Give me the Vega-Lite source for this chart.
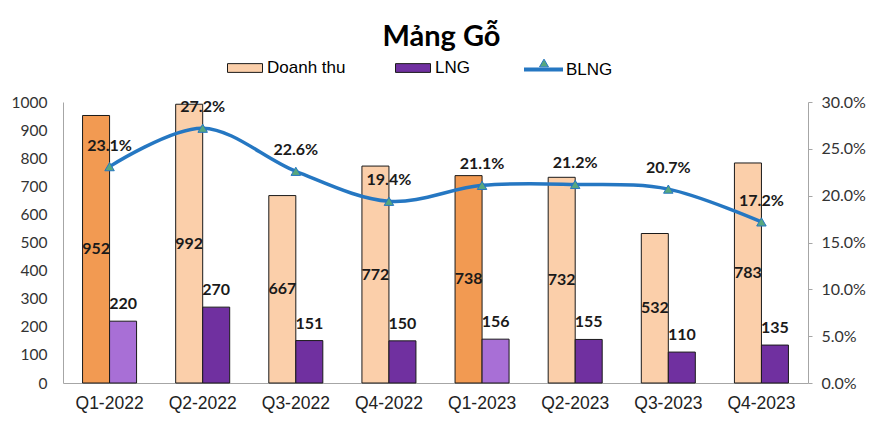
{
  "$schema": "https://vega.github.io/schema/vega-lite/v6.json",
  "width": 745,
  "height": 281,
  "autosize": "none",
  "padding": {"left": 63, "top": 102, "right": 77, "bottom": 49},
  "background": "white",
  "title": {"text": "Mảng Gỗ", "font": "Lato", "fontSize": 29, "fontWeight": "bold", "color": "black", "anchor": "middle", "dx": 6, "dy": 8},
  "config": {"view": {"stroke": null}},
  "datasets": {
    "bars": [
      {"q": "Q1-2022", "series": "Doanh thu", "value": 952, "hl": true},
      {"q": "Q1-2022", "series": "LNG", "value": 220, "hl": true},
      {"q": "Q2-2022", "series": "Doanh thu", "value": 992, "hl": false},
      {"q": "Q2-2022", "series": "LNG", "value": 270, "hl": false},
      {"q": "Q3-2022", "series": "Doanh thu", "value": 667, "hl": false},
      {"q": "Q3-2022", "series": "LNG", "value": 151, "hl": false},
      {"q": "Q4-2022", "series": "Doanh thu", "value": 772, "hl": false},
      {"q": "Q4-2022", "series": "LNG", "value": 150, "hl": false},
      {"q": "Q1-2023", "series": "Doanh thu", "value": 738, "hl": true},
      {"q": "Q1-2023", "series": "LNG", "value": 156, "hl": true},
      {"q": "Q2-2023", "series": "Doanh thu", "value": 732, "hl": false},
      {"q": "Q2-2023", "series": "LNG", "value": 155, "hl": false},
      {"q": "Q3-2023", "series": "Doanh thu", "value": 532, "hl": false},
      {"q": "Q3-2023", "series": "LNG", "value": 110, "hl": false},
      {"q": "Q4-2023", "series": "Doanh thu", "value": 783, "hl": false},
      {"q": "Q4-2023", "series": "LNG", "value": 135, "hl": false}
    ],
    "line": [
      {"q": "Q1-2022", "blng": 0.231},
      {"q": "Q2-2022", "blng": 0.272},
      {"q": "Q3-2022", "blng": 0.226},
      {"q": "Q4-2022", "blng": 0.194},
      {"q": "Q1-2023", "blng": 0.211},
      {"q": "Q2-2023", "blng": 0.212},
      {"q": "Q3-2023", "blng": 0.207},
      {"q": "Q4-2023", "blng": 0.172}
    ]
  },
  "resolve": {"scale": {"y": "independent"}},
  "layer": [
    {
      "data": {"name": "bars"},
      "layer": [
        {
          "mark": {"type": "bar", "stroke": "#1a1a1a", "strokeWidth": 1},
          "encoding": {
            "x": {"field": "q", "type": "nominal", "sort": null, "scale": {"paddingInner": 0.42, "paddingOuter": 0.21},
                  "axis": {"title": null, "labelAngle": 0, "labelFont": "Liberation Sans", "labelFontSize": 17.5, "labelColor": "#222", "ticks": false, "domainColor": "#a6a6a6", "labelPadding": 11}},
            "xOffset": {"field": "series", "type": "nominal", "sort": null, "scale": {"domain": ["Doanh thu", "LNG"], "paddingInner": 0, "paddingOuter": 0}},
            "y": {"field": "value", "type": "quantitative", "scale": {"domain": [0, 1000]},
                  "axis": {"orient": "left", "title": null, "values": [0, 100, 200, 300, 400, 500, 600, 700, 800, 900, 1000], "tickCount": 12, "format": "d", "labelOverlap": false, "grid": false, "ticks": false, "domainColor": "#a6a6a6", "labelFont": "Lato", "labelFontSize": 15.5, "labelColor": "#333", "labelPadding": 16}},
            "color": {
              "field": "series", "type": "nominal",
              "scale": {"domain": ["Doanh thu", "LNG"], "range": ["#FBCFAA", "#7030A0"]},
              "condition": [
                {"test": "datum.hl && datum.series == 'Doanh thu'", "value": "#F29A52"},
                {"test": "datum.hl", "value": "#A86FD6"}
              ],
              "legend": {"orient": "none", "legendX": 164, "legendY": -52, "direction": "horizontal", "title": null,
                         "symbolType": "M-1,-0.25H1V0.25H-1Z", "symbolSize": 1225, "symbolStrokeColor": "#1a1a1a", "symbolStrokeWidth": 1,
                         "labelFont": "Liberation Sans", "labelFontSize": 17, "labelColor": "black", "labelOffset": 4, "columnPadding": 47}
            }
          }
        },
        {
          "transform": [{"filter": "datum.series == 'LNG'"}],
          "mark": {"type": "text", "font": "Lato", "fontWeight": "bold", "fontSize": 16, "baseline": "bottom", "dy": -9, "color": "#1a1a1a"},
          "encoding": {
            "x": {"field": "q", "type": "nominal", "sort": null},
            "xOffset": {"field": "series", "type": "nominal", "sort": null, "scale": {"domain": ["Doanh thu", "LNG"]}},
            "y": {"field": "value", "type": "quantitative"},
            "text": {"field": "value", "type": "quantitative"}
          }
        }
      ]
    },
    {
      "data": {"name": "bars"},
      "transform": [{"filter": "datum.series == 'Doanh thu'"}],
      "mark": {"type": "text", "font": "Lato", "fontWeight": "bold", "fontSize": 16, "baseline": "middle", "color": "#1a1a1a"},
      "encoding": {
        "x": {"field": "q", "type": "nominal", "sort": null},
        "xOffset": {"field": "series", "type": "nominal", "sort": null, "scale": {"domain": ["Doanh thu", "LNG"]}},
        "y": {"field": "value", "type": "quantitative", "scale": {"domain": [0, 2000]}, "axis": null},
        "text": {"field": "value", "type": "quantitative"}
      }
    },
    {
      "data": {"name": "line"},
      "layer": [
        {
          "mark": {"type": "line", "interpolate": "cardinal", "strokeWidth": 3.5},
          "encoding": {
            "x": {"field": "q", "type": "nominal", "sort": null},
            "y": {"field": "blng", "type": "quantitative", "scale": {"domain": [0, 0.3]},
                  "axis": {"orient": "right", "title": null, "format": ".1%", "values": [0, 0.05, 0.1, 0.15, 0.2, 0.25, 0.3], "tickCount": 8, "grid": false, "tickSize": 4, "tickColor": "#a6a6a6", "domainColor": "#a6a6a6", "labelFont": "Lato", "labelFontSize": 16, "labelColor": "#333", "labelPadding": 9}},
            "stroke": {"datum": "BLNG", "type": "nominal", "scale": {"range": ["#2577C2"]},
                       "legend": {"orient": "none", "legendX": 459, "legendY": -54, "title": null, "symbolType": "stroke", "symbolSize": 1521, "symbolStrokeWidth": 4,
                                  "labelFont": "Liberation Sans", "labelFontSize": 17, "labelColor": "black", "labelOffset": 1}}
          }
        },
        {
          "mark": {"type": "point", "shape": "triangle-up", "filled": true, "size": 90, "stroke": "#2577C2", "strokeWidth": 1, "opacity": 1},
          "encoding": {
            "x": {"field": "q", "type": "nominal", "sort": null},
            "y": {"field": "blng", "type": "quantitative"},
            "fill": {"datum": "marker", "type": "nominal", "scale": {"range": ["#57A77F"]},
                     "legend": {"orient": "none", "legendX": 476, "legendY": -44, "title": null, "symbolType": "triangle-up", "symbolSize": 80,
                                "symbolStrokeColor": "#2577C2", "symbolStrokeWidth": 1, "labelExpr": "''"}}
          }
        },
        {
          "mark": {"type": "text", "font": "Lato", "fontWeight": "bold", "fontSize": 16, "baseline": "bottom", "dy": -13, "color": "#1a1a1a"},
          "encoding": {
            "x": {"field": "q", "type": "nominal", "sort": null},
            "y": {"field": "blng", "type": "quantitative"},
            "text": {"field": "blng", "type": "quantitative", "format": ".1%"}
          }
        }
      ]
    }
  ]
}
